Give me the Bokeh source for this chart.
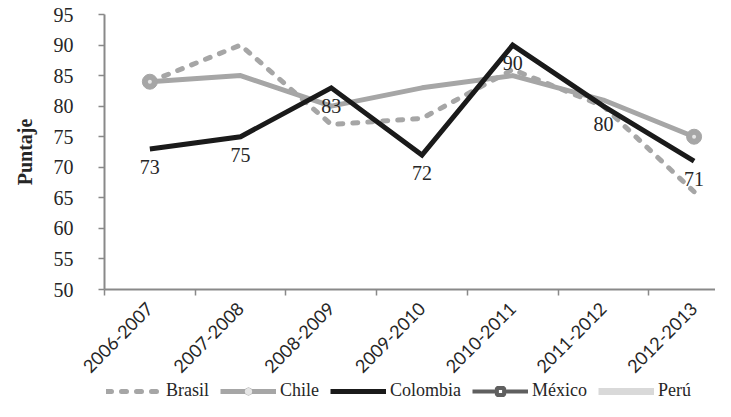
import math
from bokeh.plotting import figure
from bokeh.layouts import column
from bokeh.models import Range1d, FixedTicker, Legend, LegendItem, Title
from bokeh.core.properties import value
from bokeh.embed import file_html
from bokeh.resources import INLINE

# ---- data ----
periods = ["2006-2007", "2007-2008", "2008-2009", "2009-2010",
           "2010-2011", "2011-2012", "2012-2013"]
brasil = [84, 90, 77, 78, 86, 80, 66]
chile = [84, 85, 80, 83, 85, 81, 75]
colombia = [73, 75, 83, 72, 90, 80, 71]
mexico = [float("nan")] * 7   # no values shown in the chart
peru = [float("nan")] * 7     # no values shown in the chart
series_names = ["Brasil", "Chile", "Colombia", "México", "Perú"]
y_ticks = [50, 55, 60, 65, 70, 75, 80, 85, 90, 95]
y_title = "Puntaje"

x = list(range(len(periods)))
boundaries = [i - 0.5 for i in range(len(periods) + 1)]

SERIF = "Liberation Serif"
SANS = "Lato"
AXIS_GRAY = "#898989"
GRAY = "#a6a6a6"
TXT = "#262626"

W = 715
H_MAIN = 381
H_LEG = 20

p = figure(width=W, height=H_MAIN, output_backend="svg", toolbar_location=None,
           x_range=Range1d(-0.5, 6.236), y_range=Range1d(50, 95),
           min_border_left=100, min_border_top=14, min_border_right=0,
           min_border_bottom=87)
p.outline_line_color = None
p.xgrid.visible = False
p.ygrid.visible = False

p.line(x, brasil, line_color=GRAY, line_width=5, line_dash="5 10", line_cap="round")
p.line(x, chile, line_color=GRAY, line_width=5, line_join="round")
ends_x = [x[0], x[-1]]
ends_y = [chile[0], chile[-1]]
p.scatter(ends_x, ends_y, size=15, fill_color=GRAY, line_color=GRAY)
p.scatter(ends_x, ends_y, size=4, fill_color="#e6e6e6", line_color=None)
p.line(x, colombia, line_color="#1a1a1a", line_width=5, line_join="miter")
# México and Perú have no plotted values
p.line(x, mexico, line_color="#5f5f5f", line_width=4)
p.line(x, peru, line_color="#d9d9d9", line_width=7)

p.text(x, colombia, text=[str(v) for v in colombia], text_align="center",
       text_baseline="top", y_offset=11, text_font=value(SERIF),
       text_font_size="20px", text_color=TXT)

# axes
xa = p.xaxis[0]
xa.ticker = FixedTicker(ticks=x, minor_ticks=boundaries)
xa.major_label_overrides = {i: periods[i] for i in x}
xa.major_tick_line_color = None
xa.minor_tick_line_color = AXIS_GRAY
xa.minor_tick_line_width = 1.5
xa.minor_tick_out = 6
xa.minor_tick_in = 0
xa.axis_line_color = AXIS_GRAY
xa.axis_line_width = 2
xa.major_label_orientation = math.pi / 4
xa.major_label_text_font = SANS
xa.major_label_text_font_size = "18px"
xa.major_label_text_color = TXT
xa.major_label_standoff = 10

ya = p.yaxis[0]
ya.ticker = FixedTicker(ticks=y_ticks)
ya.minor_tick_line_color = None
ya.major_tick_line_color = AXIS_GRAY
ya.major_tick_line_width = 1.5
ya.major_tick_out = 6
ya.major_tick_in = 0
ya.axis_line_color = AXIS_GRAY
ya.axis_line_width = 2
ya.major_label_text_font = SERIF
ya.major_label_text_font_size = "20px"
ya.major_label_text_color = TXT
ya.major_label_standoff = 25

ytitle = Title(text=y_title, align="center", offset=-16, vertical_align="top",
               text_font=SERIF, text_font_style="bold",
               text_font_size="20px", text_color=TXT, standoff=26)
p.add_layout(ytitle, "left")

# ---- legend strip ----
pl = figure(width=W, height=H_LEG, output_backend="svg", toolbar_location=None,
            x_range=Range1d(0, 1), y_range=Range1d(0, 1),
            x_axis_location=None, y_axis_location=None, min_border=0)
pl.outline_line_color = None
pl.xgrid.visible = False
pl.ygrid.visible = False

none_vals = [float("nan")] * len(x)
l_br = pl.line(x, none_vals, line_color=GRAY, line_width=5, line_dash="5 10",
               line_cap="round")
l_cl = pl.line(x, none_vals, line_color=GRAY, line_width=5)
l_cl_m = pl.scatter(x, none_vals, size=15, fill_color=GRAY, line_color=GRAY)
l_cl_m2 = pl.scatter(x, none_vals, size=4, fill_color="#e6e6e6", line_color=None)
l_co = pl.line(x, none_vals, line_color="#1a1a1a", line_width=5)
l_mx = pl.line(x, none_vals, line_color="#5f5f5f", line_width=4)
l_mx_m = pl.scatter(x, none_vals, marker="square", size=16, fill_color="white",
                    line_color="#5f5f5f", line_width=4)
l_pe = pl.line(x, none_vals, line_color="#d9d9d9", line_width=7)

legend = Legend(items=[
    LegendItem(label=series_names[0], renderers=[l_br]),
    LegendItem(label=series_names[1], renderers=[l_cl, l_cl_m, l_cl_m2]),
    LegendItem(label=series_names[2], renderers=[l_co]),
    LegendItem(label=series_names[3], renderers=[l_mx, l_mx_m]),
    LegendItem(label=series_names[4], renderers=[l_pe]),
], orientation="horizontal", location=(2, 0),
    label_text_font=SERIF, label_text_font_size="18px",
    label_text_color=TXT, glyph_width=56, glyph_height=18, label_height=18,
    spacing=11, padding=0, margin=0, label_standoff=4,
    border_line_color=None, background_fill_alpha=0)
pl.add_layout(legend)

layout = column(p, pl, spacing=0)
open("out.html", "w").write(file_html(layout, INLINE))
